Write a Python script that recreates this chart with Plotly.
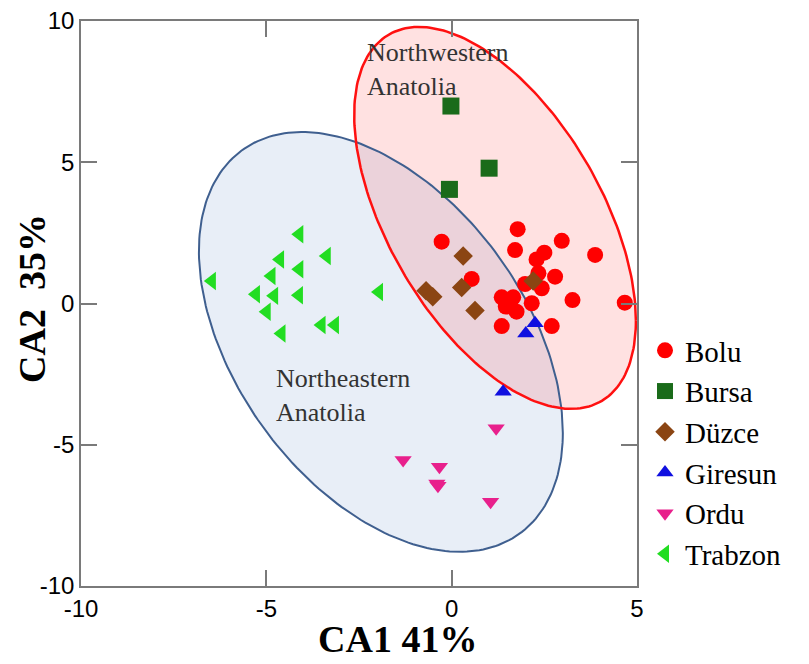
import numpy as np
import plotly.graph_objects as go

# ---- data ----
bolu_x = [-0.27, 1.78, 1.71, 2.97, 2.50, 2.29, 3.87, 0.54, 2.34, 2.79, 2.43, 1.98,
          1.35, 1.66, 1.46, 1.75, 2.16, 3.26, 4.67, 1.35, 2.70, 1.57]
bolu_y = [2.19, 2.63, 1.89, 2.22, 1.80, 1.56, 1.72, 0.87, 1.07, 0.95, 0.54, 0.69,
          0.22, 0.22, -0.11, -0.29, 0.01, 0.12, 0.03, -0.80, -0.80, 0.01]
bursa_x = [-0.02, 1.01, -0.06]
bursa_y = [6.99, 4.79, 4.04]
duzce_x = [0.31, 0.27, -0.69, -0.51, 0.63, 2.20]
duzce_y = [1.68, 0.57, 0.45, 0.24, -0.25, 0.80]
giresun_x = [2.00, 2.25, 1.39]
giresun_y = [-1.06, -0.70, -3.12]
ordu_x = [1.20, -1.31, -0.33, -0.40, -0.37, 1.05]
ordu_y = [-4.42, -5.54, -5.78, -6.37, -6.45, -7.02]
trabzon_x = [-6.47, -4.11, -3.37, -4.63, -4.11, -4.86, -5.28, -4.79, -4.12, -1.96,
             -4.99, -4.59, -3.51, -3.15]
trabzon_y = [0.80, 2.45, 1.68, 1.56, 1.21, 0.97, 0.33, 0.27, 0.29, 0.41,
             -0.29, -1.06, -0.76, -0.76]

# confidence ellipses: centre and covariance-like shape (data units)
nw_center = [1.17, 3.03]
nw_cov = [[14.44, -13.85], [-13.85, 45.7]]
ne_center = [-1.91, -1.36]
ne_cov = [[24.1, -15.8], [-15.8, 55.2]]

x_ticks = [-10, -5, 0, 5]
x_tick_text = ["-10", "-5", "0", "5"]
y_ticks = [-10, -5, 0, 5, 10]
y_tick_text = ["-10", "-5", "0", "5", "10"]


def ellipse(center, cov, n=240):
    L = np.linalg.cholesky(np.array(cov))
    t = np.linspace(0, 2 * np.pi, n)
    pts = L @ np.vstack([np.cos(t), np.sin(t)])
    return pts[0] + center[0], pts[1] + center[1]


SERIF = "Liberation Serif, Times New Roman, serif"
SANS = "Liberation Sans, Arial, sans-serif"

# the page body has an 8px margin, so the figure starts at (8, 8) in the window
OFF = 8
W, H = 809, 664
pw, ph = 556, 565
ml, mt = 81 - OFF, 21 - OFF
mr, mb = W - ml - pw, H - mt - ph


def px_to_paper(px, py):
    return (px - OFF - ml) / pw, (H - mb - (py - OFF)) / ph


fig = go.Figure()

ex_ne, ey_ne = ellipse(ne_center, ne_cov)
ex_nw, ey_nw = ellipse(nw_center, nw_cov)

fig.add_trace(go.Scatter(x=ex_ne, y=ey_ne, mode="lines", fill="toself",
                         fillcolor="rgba(80,120,190,0.13)", line=dict(width=0),
                         showlegend=False, hoverinfo="skip"))
fig.add_trace(go.Scatter(x=ex_nw, y=ey_nw, mode="lines", fill="toself",
                         fillcolor="rgba(255,40,40,0.14)", line=dict(width=0),
                         showlegend=False, hoverinfo="skip"))
fig.add_trace(go.Scatter(x=ex_ne, y=ey_ne, mode="lines",
                         line=dict(color="#3f5f8f", width=2),
                         showlegend=False, hoverinfo="skip"))
fig.add_trace(go.Scatter(x=ex_nw, y=ey_nw, mode="lines",
                         line=dict(color="#ff1010", width=2.5),
                         showlegend=False, hoverinfo="skip"))

series = [
    ("Bolu", bolu_x, bolu_y, "circle", "#ff0000", 16),
    ("Bursa", bursa_x, bursa_y, "square", "#1a6b1a", 17),
    ("Düzce", duzce_x, duzce_y, "diamond", "#8b4513", 15),
    ("Giresun", giresun_x, giresun_y, "triangle-up", "#1010e0", 15),
    ("Ordu", ordu_x, ordu_y, "triangle-down", "#e8208c", 15),
    ("Trabzon", trabzon_x, trabzon_y, "triangle-left", "#22dd22", 16),
]
for name, xs, ys, sym, col, sz in series:
    fig.add_trace(go.Scatter(x=xs, y=ys, mode="markers", name=name,
                             marker=dict(symbol=sym, color=col, size=sz,
                                         line=dict(width=0))))

fig.add_annotation(x=-2.33, y=8.3, xref="x", yref="y", xanchor="left", yanchor="middle",
                   text="Northwestern<br>Anatolia", showarrow=False, align="left",
                   font=dict(family=SERIF, size=26, color="#333333"))
fig.add_annotation(x=-4.8, y=-3.24, xref="x", yref="y", xanchor="left", yanchor="middle",
                   text="Northeastern<br>Anatolia", showarrow=False, align="left",
                   font=dict(family=SERIF, size=26, color="#333333"))

tx, ty = px_to_paper(397, 639)
fig.add_annotation(x=tx, y=ty, xref="paper", yref="paper", text="<b>CA1 41%</b>",
                   xanchor="center", yanchor="middle", borderpad=0,
                   showarrow=False, font=dict(family=SERIF, size=38, color="black"))
tx, ty = px_to_paper(32, 299)
fig.add_annotation(x=tx, y=ty, xref="paper", yref="paper", text="<b>CA2  35%</b>",
                   xanchor="center", yanchor="middle", borderpad=0,
                   showarrow=False, textangle=-90,
                   font=dict(family=SERIF, size=38, color="black"))

axis_common = dict(showgrid=False, zeroline=False, showline=True, linecolor="#7a7a7a",
                   linewidth=1.5, mirror="allticks", ticks="inside", ticklen=16,
                   tickcolor="#7a7a7a", tickwidth=1.5, automargin=False,
                   ticklabeloverflow="allow",
                   tickfont=dict(family=SANS, size=24, color="black"))

fig.update_xaxes(range=[-10, 5], tickvals=x_ticks, ticktext=x_tick_text, **axis_common)
fig.update_yaxes(range=[-10, 10], tickvals=y_ticks, ticktext=y_tick_text, **axis_common)

lx, ly = px_to_paper(645, 325)
fig.update_layout(
    width=W, height=H,
    margin=dict(l=ml, r=mr, t=mt, b=mb, autoexpand=False),
    plot_bgcolor="white", paper_bgcolor="white",
    showlegend=True,
    legend=dict(x=lx, xanchor="left", y=ly, yanchor="top",
                font=dict(family=SERIF, size=29, color="black"),
                bgcolor="rgba(0,0,0,0)", tracegroupgap=0, itemsizing="trace",
                itemwidth=30),
)

fig.write_html("out.html")
